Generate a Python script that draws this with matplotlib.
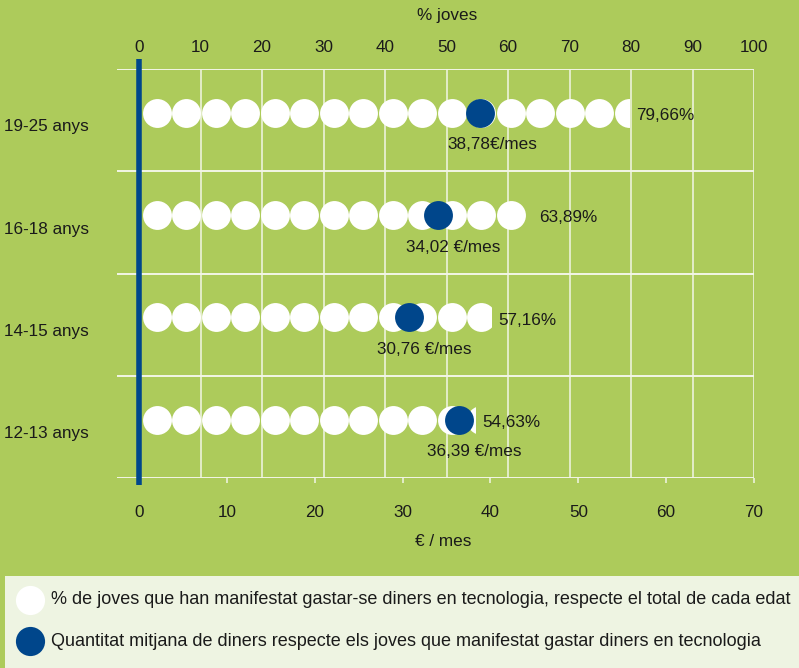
import matplotlib
matplotlib.use("Agg")
import matplotlib.pyplot as plt
from matplotlib.lines import Line2D
from matplotlib.patches import Rectangle

# ----------------------------------------------------------------------
# Data: share of young people spending on technology, and mean spend
# ----------------------------------------------------------------------
AGES = ["19-25 anys", "16-18 anys", "14-15 anys", "12-13 anys"]
PCT_SPENDING = [79.66, 63.89, 57.16, 54.63]        # % joves
EURO_PER_MONTH = [38.78, 34.02, 30.76, 36.39]      # € / mes
EURO_UNITS = ["€/mes", " €/mes", " €/mes", " €/mes"]

PCT_TICKS = list(range(0, 101, 10))
EURO_TICKS = list(range(0, 71, 10))

LEGEND_TEXT = [
    "% de joves que han manifestat gastar-se diners en tecnologia, respecte el total de cada edat",
    "Quantitat mitjana de diners respecte els joves que manifestat gastar diners en tecnologia",
]

# ----------------------------------------------------------------------
# Style
# ----------------------------------------------------------------------
GREEN = "#adcb5b"
BLUE = "#00468b"
LINE = "#f2f6e6"
INK = "#1a1a1a"
LEGEND_BG = "#eef4e2"
FS = 12.3

plt.rcParams["font.family"] = ["Liberation Sans", "DejaVu Sans"]
plt.rcParams["font.size"] = FS

W, H = 799, 668
fig = plt.figure(figsize=(W / 100, H / 100), dpi=100, facecolor=GREEN)

# axes box in pixels: x 117..754, y 69..478
ax_l, ax_r, ax_t, ax_b = 117, 754, 69, 478
ax = fig.add_axes([ax_l / W, 1 - ax_b / H, (ax_r - ax_l) / W, (ax_b - ax_t) / H])
ax_pct = ax.twiny()

PCT_MAX, EURO_MAX = 100, 70
left_pad = -22 / ((ax_r - 139) / PCT_MAX)          # zero line sits 22 px inside the box
ax_pct.set_xlim(left_pad, PCT_MAX)
ax.set_xlim(left_pad * EURO_MAX / PCT_MAX, EURO_MAX)
n_rows = len(AGES)
ax.set_ylim(0, n_rows)

# blue markers (€ axis) drawn above the white rows (% axis)
ax.set_zorder(2)
ax_pct.set_zorder(1)
for a in (ax, ax_pct):
    a.patch.set_visible(False)
    for s in a.spines.values():
        s.set_visible(False)

# grid and band separators
for x in PCT_TICKS[1:]:
    ax_pct.axvline(x, color=LINE, lw=1.1, zorder=0)
for y in range(n_rows + 1):
    ax_pct.axhline(y, color=LINE, lw=1.4, zorder=0)

# ticks
ax_pct.set_xticks(PCT_TICKS)
ax_pct.tick_params(axis="x", top=True, length=0, pad=10, labelsize=FS, colors=INK)
ax_pct.set_xlabel("% joves", fontsize=FS, color=INK)
ax_pct.xaxis.set_label_coords(0.518, 1.12)

ax.set_xticks(EURO_TICKS)
ax.tick_params(axis="x", bottom=True, direction="out", length=3.5, width=1.1,
               color=LINE, pad=16, labelsize=FS, labelcolor=INK)
ax.set_yticks([])
ax_pct.set_yticks([])
ax.set_xlabel("€ / mes", fontsize=FS, color=INK)
ax.xaxis.set_label_coords(0.512, -0.138)

# vertical baseline at zero
ax.plot([0, 0], [-0.07, n_rows + 0.1], color=BLUE, lw=4.0,
        solid_capstyle="butt", clip_on=False, zorder=5)

# ----------------------------------------------------------------------
# Rows of circles
# ----------------------------------------------------------------------
SLOT_START, SLOT_STEP, SLOT_R = 2.85, 4.8, 2.36    # in % units
DOT_SIZE = 20.8 ** 2                                # scatter size (pt^2)
ROW_OFFSET = 0.43                                   # circle centre below band top

for i, (age, pct, eur, unit) in enumerate(zip(AGES, PCT_SPENDING, EURO_PER_MONTH, EURO_UNITS)):
    y = n_rows - i - ROW_OFFSET
    # a circle is shown (cut at the value) once half of its left side is covered
    xs = []
    x = SLOT_START
    while x - SLOT_R / 2 < pct:
        xs.append(x)
        x += SLOT_STEP
    dots = ax_pct.scatter(xs, [y] * len(xs), s=DOT_SIZE, color="white",
                          linewidths=0, zorder=3)
    clip = Rectangle((left_pad, y - 0.5), pct - left_pad, 1.0,
                     transform=ax_pct.transData)
    dots.set_clip_path(clip)

    ax_pct.annotate(f"{pct:.2f}%".replace(".", ","), (pct, y),
                    xytext=(5.5, -2), textcoords="offset points",
                    ha="left", va="center", color=INK, fontsize=FS)

    ax.scatter([eur], [y], s=DOT_SIZE, color=BLUE, linewidths=0, zorder=4)
    ax.annotate(f"{eur:.2f}".replace(".", ",") + unit, (eur, y),
                xytext=(-23, -23), textcoords="offset points",
                ha="left", va="center", color=INK, fontsize=FS)

    ax_pct.annotate(age, (4 / W, y), xycoords=("figure fraction", "data"),
                    xytext=(0, -10), textcoords="offset points",
                    ha="left", va="center", color=INK, fontsize=FS)

# ----------------------------------------------------------------------
# Legend panel
# ----------------------------------------------------------------------
fig.add_artist(Rectangle((5 / W, 0), 1 - 5 / W, 92 / H, transform=fig.transFigure,
                         facecolor=LEGEND_BG, edgecolor="none"))
for text, color, y_px in zip(LEGEND_TEXT, ["white", BLUE], [600, 641]):
    fig.add_artist(Line2D([30 / W], [1 - y_px / H], transform=fig.transFigure,
                          marker="o", ms=21, mfc=color, mec="none", ls="none"))
    fig.text(51 / W, 1 - y_px / H, text, ha="left", va="center",
             color=INK, fontsize=13.0)

fig.savefig("out.png", dpi=100, facecolor=GREEN)
